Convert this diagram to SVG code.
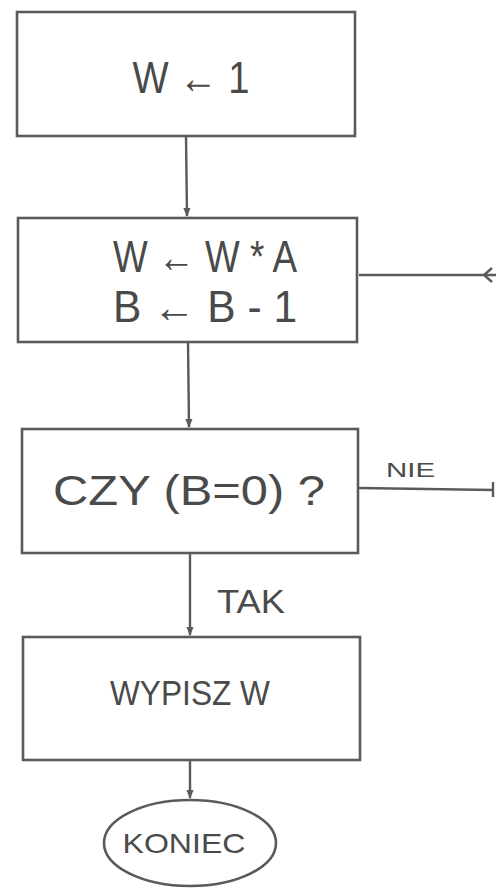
<svg xmlns="http://www.w3.org/2000/svg" width="496" height="888" viewBox="0 0 496 888">
<defs>
<style>
.box{fill:#fff;stroke:#5a5a5a;stroke-width:2.6}
.ln{fill:none;stroke:#5a5a5a;stroke-width:2.4}
.t{font-family:"Liberation Sans","DejaVu Sans",sans-serif;fill:#4a4a4a;text-anchor:middle}
.lbl{font-family:"Liberation Sans","DejaVu Sans",sans-serif;fill:#4a4a4a}
</style>
<marker id="ah" viewBox="0 0 10 10" refX="9" refY="5" markerWidth="9" markerHeight="9" markerUnits="userSpaceOnUse" orient="auto">
<path d="M0,1 L10,5 L0,9 Z" fill="#5a5a5a"/>
</marker>
</defs>
<rect width="496" height="888" fill="#fff"/>
<g id="connectors">
<line class="ln" x1="186" y1="136" x2="187" y2="216" marker-end="url(#ah)"/>
<line class="ln" x1="188" y1="342" x2="189" y2="427" marker-end="url(#ah)"/>
<line class="ln" x1="190" y1="553" x2="190" y2="635" marker-end="url(#ah)"/>
<line class="ln" x1="190" y1="760" x2="190" y2="798" marker-end="url(#ah)"/>
<line class="ln" x1="496" y1="275" x2="359" y2="275"/>
<path d="M492,268 L484,275 L492,282" class="ln"/>
<line class="ln" x1="359" y1="488" x2="493" y2="490"/>
<line class="ln" x1="493" y1="482" x2="493" y2="497"/>
<text class="lbl" x="386" y="477" font-size="20" textLength="49" lengthAdjust="spacingAndGlyphs">NIE</text>
<text class="lbl" x="217" y="613" font-size="34" textLength="68" lengthAdjust="spacingAndGlyphs">TAK</text>
</g>
<g id="n1">
<rect class="box" x="17" y="12" width="338" height="124"/>
<text class="t" x="191" y="93" font-size="45" textLength="117" lengthAdjust="spacingAndGlyphs">W ← 1</text>
</g>
<g id="n2">
<rect class="box" x="18" y="218" width="339" height="124"/>
<text class="t" x="205" y="272" font-size="44" textLength="184" lengthAdjust="spacingAndGlyphs">W ← W * A</text>
<text class="t" x="205" y="322" font-size="44" textLength="184" lengthAdjust="spacingAndGlyphs">B ← B - 1</text>
</g>
<g id="n3">
<rect class="box" x="22" y="429" width="336" height="124"/>
<text class="t" x="189" y="505" font-size="42" textLength="272" lengthAdjust="spacingAndGlyphs">CZY  (B=0) ?</text>
</g>
<g id="n4">
<rect class="box" x="23" y="637" width="337" height="123"/>
<text class="t" x="190" y="705" font-size="35" textLength="160" lengthAdjust="spacingAndGlyphs">WYPISZ  W</text>
</g>
<g id="n5">
<ellipse class="box" cx="190" cy="843" rx="86" ry="43"/>
<text class="t" x="184" y="853" font-size="28" textLength="123" lengthAdjust="spacingAndGlyphs">KONIEC</text>
</g>
</svg>
